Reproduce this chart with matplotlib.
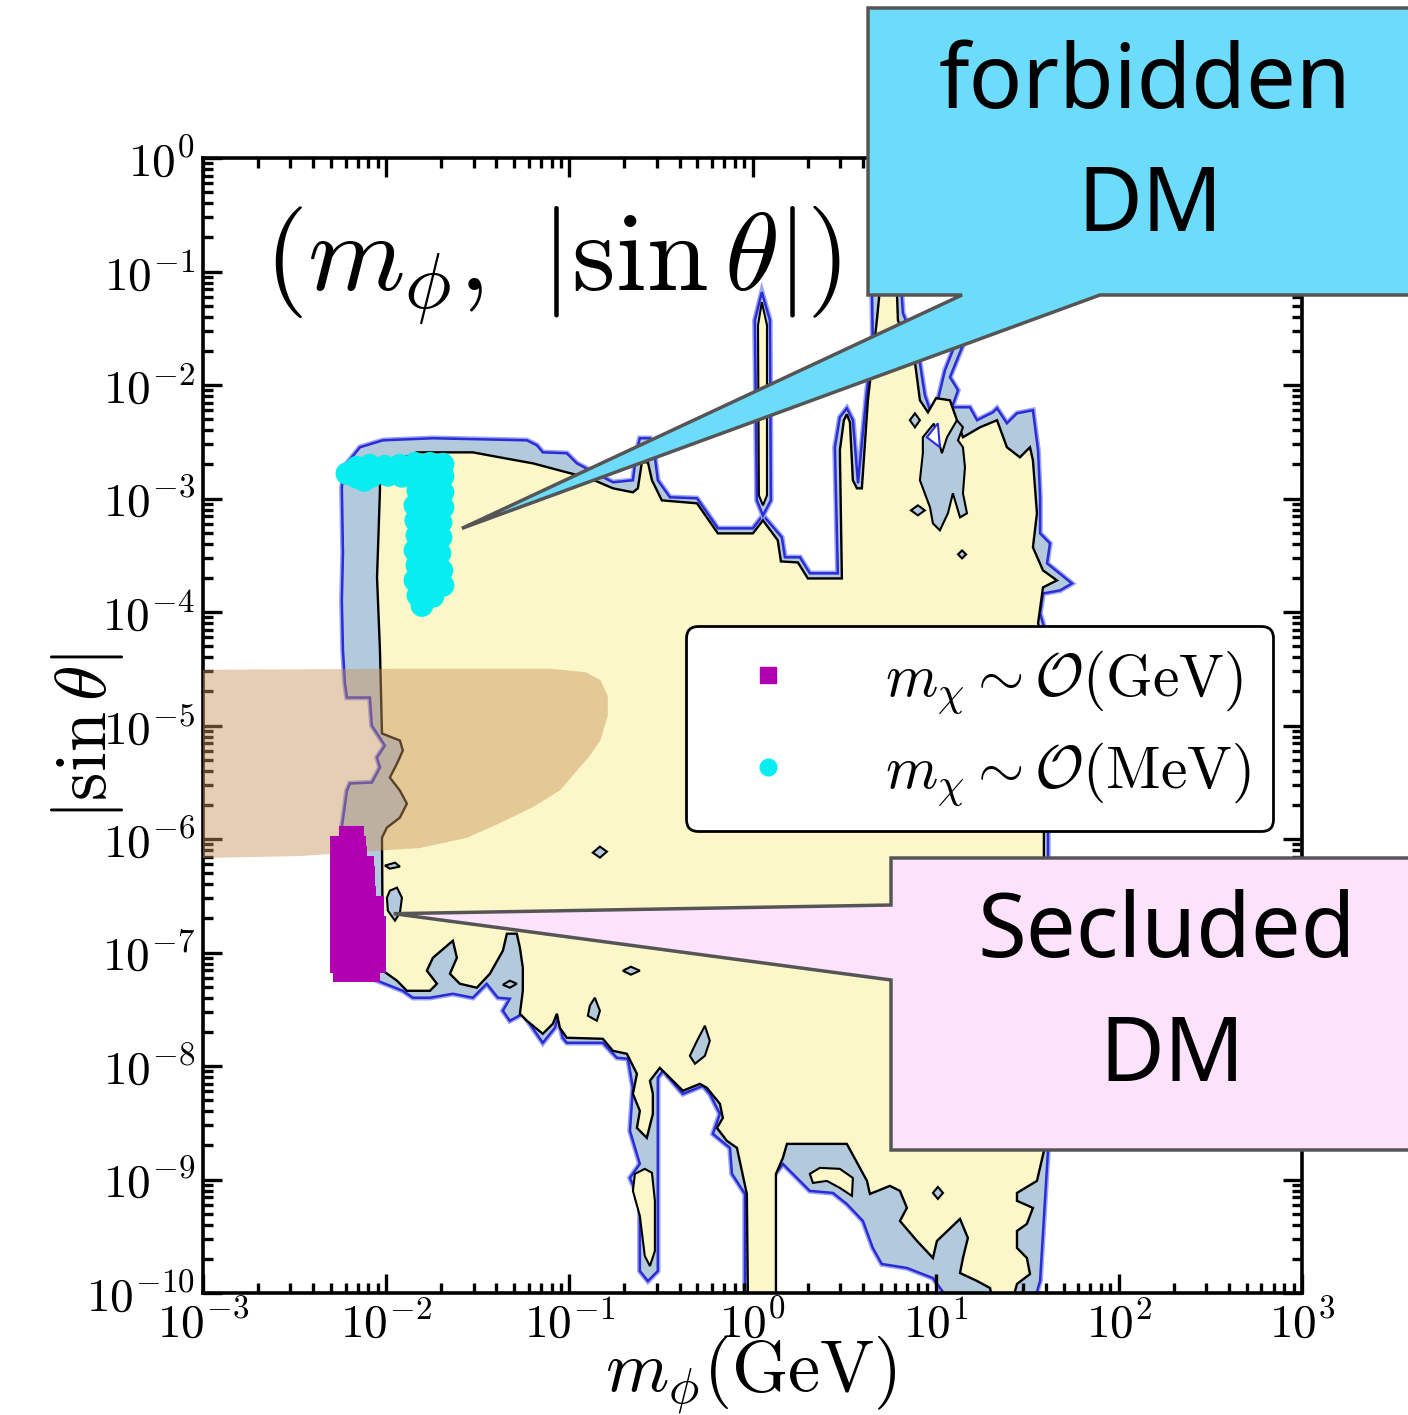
import numpy as np
import matplotlib
matplotlib.use("Agg")
import matplotlib.pyplot as plt
import matplotlib.patheffects as pe
from matplotlib.patches import Polygon
from matplotlib.lines import Line2D
from matplotlib.ticker import LogLocator, FuncFormatter, NullFormatter

plt.rcParams['mathtext.fontset'] = 'cm'
plt.rcParams['font.family'] = 'DejaVu Serif'

# contour boundaries, stored as (log10 m_phi [GeV], log10 |sin theta|)
outer_edge = [
    (-2.236, -2.839), (-2.214, -2.690), (-2.143, -2.548), (-2.018, -2.487), (-1.745, -2.469),
    (-1.232, -2.487), (-1.177, -2.531), (-1.145, -2.593), (-1.014, -2.601), (-0.959, -2.690),
    (-0.888, -2.751), (-0.762, -2.857), (-0.653, -2.839), (-0.631, -2.575), (-0.615, -2.469),
    (-0.560, -2.469), (-0.533, -2.637), (-0.517, -2.839), (-0.451, -2.989), (-0.303, -2.998),
    (-0.189, -3.263), (0.002, -3.263), (0.057, -3.148), (0.160, -3.342), (0.177, -3.518),
    (0.259, -3.518), (0.313, -3.659), (0.466, -3.659), (0.450, -2.548), (0.477, -2.284),
    (0.515, -2.205), (0.548, -2.310), (0.576, -2.866), (0.625, -2.046), (0.657, -1.667),
    (0.652, -1.120), (0.695, -0.988), (0.805, -0.988), (0.821, -1.367), (0.903, -1.693),
    (0.941, -2.090), (0.969, -2.222), (1.012, -2.134), (1.051, -1.869), (1.105, -1.649),
    (1.144, -1.667), (1.078, -1.931), (1.122, -2.046), (1.089, -2.196), (1.187, -2.196),
    (1.226, -2.310), (1.313, -2.240), (1.335, -2.205), (1.389, -2.337), (1.444, -2.249),
    (1.531, -2.222), (1.559, -2.575), (1.570, -2.989), (1.570, -3.307), (1.624, -3.395),
    (1.608, -3.571), (1.744, -3.748), (1.679, -3.809), (1.586, -3.836), (1.570, -4.012),
    (1.613, -4.250), (1.613, -8.748), (1.570, -9.894), (1.542, -10.05), (1.067, -10.05),
    (0.985, -9.868), (0.843, -9.779), (0.706, -9.744), (0.657, -9.603), (0.603, -9.365),
    (0.515, -9.215), (0.439, -9.118), (0.313, -9.100), (0.166, -8.862), (0.106, -8.986),
    (0.106, -10.05), (-0.041, -10.05), (-0.041, -9.127), (-0.112, -8.950), (-0.123, -8.721),
    (-0.216, -8.598), (-0.178, -8.421), (-0.233, -8.245), (-0.271, -8.174), (-0.380, -8.245),
    (-0.489, -8.042), (-0.517, -8.104), (-0.517, -9.806), (-0.571, -9.894), (-0.615, -9.806),
    (-0.615, -9.188), (-0.669, -8.986), (-0.615, -8.862), (-0.669, -8.571), (-0.653, -8.192),
    (-0.680, -7.936), (-0.740, -7.927), (-0.817, -7.795), (-1.014, -7.795), (-1.036, -7.751),
    (-1.063, -7.575), (-1.079, -7.663), (-1.145, -7.795), (-1.254, -7.539), (-1.325, -7.601),
    (-1.363, -7.513), (-1.325, -7.407), (-1.390, -7.398), (-1.451, -7.275), (-1.527, -7.398),
    (-1.636, -7.363), (-1.761, -7.398), (-1.854, -7.398), (-1.909, -7.337), (-2.089, -7.222),
    (-2.225, -7.204), (-2.263, -6.984), (-2.253, -6.367), (-2.242, -5.899), (-2.214, -5.573),
    (-2.198, -5.511), (-2.078, -5.502), (-2.034, -5.370), (-2.050, -5.282), (-2.007, -5.176),
    (-2.078, -5.000), (-2.089, -4.753), (-2.214, -4.753), (-2.225, -4.629), (-2.236, -4.338),
    (-2.242, -3.898), (-2.236, -3.483), (-2.242, -2.901),
]

inner_edge = [
    (-2.034, -2.839), (-2.007, -2.751), (-1.941, -2.663), (-1.832, -2.593), (-1.527, -2.593),
    (-1.380, -2.637), (-1.199, -2.690), (-1.014, -2.769), (-0.888, -2.822), (-0.762, -2.910),
    (-0.653, -2.945), (-0.626, -2.910), (-0.604, -2.681), (-0.571, -2.681), (-0.549, -2.839),
    (-0.495, -3.016), (-0.303, -3.042), (-0.189, -3.307), (0.002, -3.307), (0.057, -3.192),
    (0.138, -3.368), (0.155, -3.554), (0.248, -3.563), (0.302, -3.704), (0.488, -3.704),
    (0.477, -2.575), (0.499, -2.310), (0.515, -2.258), (0.532, -2.328), (0.548, -2.839),
    (0.570, -2.910), (0.597, -2.910), (0.630, -2.134), (0.679, -1.429), (0.695, -1.164),
    (0.788, -1.164), (0.794, -1.429), (0.887, -1.799), (0.914, -2.134), (0.958, -2.240),
    (1.002, -2.116), (1.078, -2.134), (1.149, -2.460), (1.242, -2.372), (1.335, -2.310),
    (1.389, -2.548), (1.460, -2.637), (1.515, -2.548), (1.531, -2.663), (1.553, -3.130),
    (1.531, -3.430), (1.586, -3.633), (1.662, -3.721), (1.586, -3.783), (1.559, -4.100),
    (1.591, -4.250), (1.591, -8.748), (1.553, -9.012), (1.444, -9.118), (1.444, -9.188),
    (1.531, -9.250), (1.498, -9.391), (1.444, -9.453), (1.444, -9.603), (1.498, -9.691),
    (1.515, -9.833), (1.444, -9.920), (1.422, -10.05), (1.308, -10.05), (1.297, -9.956),
    (1.226, -9.894), (1.133, -9.824), (1.149, -9.691), (1.176, -9.515), (1.133, -9.347),
    (1.007, -9.541), (0.985, -9.691), (0.898, -9.541), (0.805, -9.365), (0.843, -9.250),
    (0.805, -9.100), (0.750, -9.056), (0.641, -9.127), (0.625, -9.012), (0.515, -8.686),
    (0.188, -8.686), (0.166, -8.809), (0.128, -8.950), (0.128, -10.05), (-0.025, -10.05),
    (-0.031, -9.127), (-0.085, -8.721), (-0.140, -8.659), (-0.194, -8.545), (-0.162, -8.457),
    (-0.178, -8.333), (-0.249, -8.192), (-0.287, -8.157), (-0.380, -8.218), (-0.506, -8.016),
    (-0.560, -8.130), (-0.544, -8.245), (-0.544, -8.421), (-0.577, -8.633), (-0.631, -8.545),
    (-0.615, -8.395), (-0.653, -8.245), (-0.631, -8.069), (-0.686, -7.892), (-0.762, -7.866),
    (-0.817, -7.760), (-1.014, -7.751), (-1.052, -7.663), (-1.068, -7.539), (-1.090, -7.628),
    (-1.145, -7.716), (-1.232, -7.601), (-1.270, -7.539), (-1.254, -7.337), (-1.254, -7.134),
    (-1.270, -6.957), (-1.287, -6.834), (-1.341, -6.834), (-1.363, -6.984), (-1.434, -7.187),
    (-1.505, -7.310), (-1.598, -7.275), (-1.652, -7.187), (-1.614, -7.046), (-1.636, -6.896),
    (-1.745, -7.046), (-1.778, -7.160), (-1.723, -7.275), (-1.761, -7.337), (-1.887, -7.337),
    (-1.941, -7.248), (-2.018, -7.160), (-2.023, -5.988), (-1.996, -5.899), (-1.925, -5.811),
    (-1.887, -5.688), (-1.925, -5.573), (-1.980, -5.458), (-1.941, -5.335), (-1.909, -5.220),
    (-1.925, -5.132), (-2.023, -5.070), (-2.034, -4.338), (-2.050, -3.695), (-2.034, -2.928),
]

# narrow resonance strip near 1 GeV
spike_outer = [(0.057, -3.148), (0.024, -3.016), (0.013, -1.429), (0.051, -1.182),
               (0.095, -1.429), (0.100, -3.016)]
spike_inner = [(0.057, -3.060), (0.035, -2.972), (0.030, -1.473), (0.051, -1.270),
               (0.079, -1.473), (0.079, -2.972)]

# patches of the lower level lying inside the upper one
islands = [
    [(0.930, -2.460), (0.990, -2.340), (1.034, -2.601), (1.062, -2.460), (1.116, -2.310),
     (1.149, -2.372), (1.122, -2.487), (1.149, -2.548), (1.160, -2.725), (1.149, -2.954),
     (1.171, -3.130), (1.133, -3.166), (1.094, -2.954), (1.067, -3.130), (1.023, -3.280),
     (0.985, -3.219), (0.969, -3.077), (0.914, -2.839), (0.930, -2.601)],
    [(-1.980, -6.455), (-1.941, -6.428), (-1.914, -6.517), (-1.925, -6.649), (-1.952, -6.719),
     (-1.991, -6.631), (-1.996, -6.517)],
    [(-0.872, -6.120), (-0.833, -6.067), (-0.795, -6.111), (-0.833, -6.164)],
    [(-0.861, -7.398), (-0.833, -7.513), (-0.850, -7.601), (-0.899, -7.557), (-0.888, -7.469)],
    [(-0.260, -7.645), (-0.233, -7.778), (-0.260, -7.910), (-0.314, -7.980), (-0.342, -7.910),
     (-0.303, -7.778)],
    [(-0.708, -7.160), (-0.664, -7.125), (-0.615, -7.160), (-0.664, -7.195)],
    [(-1.363, -7.284), (-1.325, -7.248), (-1.287, -7.275), (-1.325, -7.310)],
    [(0.859, -2.310), (0.887, -2.249), (0.914, -2.310), (0.887, -2.372)],
    [(0.865, -3.104), (0.903, -3.060), (0.941, -3.104), (0.903, -3.148)],
    [(1.122, -3.492), (1.144, -3.457), (1.166, -3.492), (1.144, -3.527)],
    [(0.985, -9.118), (1.012, -9.065), (1.040, -9.118), (1.012, -9.171)],
    [(-2.007, -6.234), (-1.952, -6.208), (-1.925, -6.243), (-1.980, -6.261)],
]
# patches of the upper level sitting inside the lower band
holes = [
    [(-0.642, -8.950), (-0.588, -8.906), (-0.549, -8.941), (-0.533, -9.188), (-0.533, -9.629),
     (-0.560, -9.762), (-0.588, -9.674), (-0.615, -9.321), (-0.653, -9.100)],
    [(0.313, -8.950), (0.368, -8.897), (0.477, -8.906), (0.548, -8.986), (0.543, -9.144),
     (0.477, -9.074), (0.406, -9.012), (0.330, -9.030)],
]
white_gap = [(0.952, -2.460), (1.012, -2.337), (1.023, -2.548)]

# shaded excluded band (top edge, rounded end, lower edge)
band_edge = [
    (-3.10, -4.510), (-1.920, -4.500), (-1.100, -4.500), (-0.910, -4.530), (-0.830, -4.600),
    (-0.790, -4.740), (-0.790, -4.910), (-0.830, -5.130), (-0.890, -5.270), (-1.050, -5.570),
    (-1.200, -5.720), (-1.380, -5.860), (-1.560, -5.990), (-1.820, -6.080), (-2.020, -6.100),
    (-2.470, -6.150), (-3.10, -6.170),
]

# scan points, m_chi ~ O(MeV)
mev_logm = [-2.160, -2.160, -2.089, -2.078, -2.007, -1.991, -1.925, -1.914, -1.843, -1.832,
            -1.761, -1.750, -1.690, -1.690, -1.827, -1.734, -1.690, -1.843, -1.761, -1.690,
            -1.838, -1.750, -1.701, -1.832, -1.745, -1.701, -1.843, -1.761, -1.707, -1.832,
            -1.750, -1.696, -1.843, -1.750, -1.690, -1.827, -1.745, -1.805, -2.214, -2.120]
mev_logs = [-2.725, -2.813, -2.707, -2.804, -2.716, -2.795, -2.707, -2.804, -2.690, -2.795,
            -2.690, -2.787, -2.698, -2.804, -2.928, -2.910, -2.945, -3.060, -3.042, -3.077,
            -3.192, -3.192, -3.210, -3.324, -3.342, -3.342, -3.457, -3.474, -3.483, -3.589,
            -3.598, -3.633, -3.721, -3.721, -3.765, -3.853, -3.862, -3.942, -2.780, -2.840]

# scan points, m_chi ~ O(GeV)
gev_logm = [-2.209, -2.165,
            -2.258, -2.203, -2.154,
            -2.258, -2.203, -2.149,
            -2.263, -2.209, -2.154, -2.111,
            -2.263, -2.209, -2.154, -2.105,
            -2.263, -2.209, -2.154, -2.105,
            -2.263, -2.209, -2.154, -2.100,
            -2.263, -2.209, -2.154, -2.100, -2.061,
            -2.263, -2.209, -2.154, -2.100, -2.056,
            -2.263, -2.209, -2.154, -2.100, -2.050,
            -2.263, -2.209, -2.154, -2.100, -2.050,
            -2.263, -2.209, -2.154, -2.100, -2.050,
            -2.263, -2.209, -2.154, -2.100, -2.050,
            -2.258, -2.203, -2.149, -2.094, -2.050,
            -2.242, -2.187, -2.133, -2.078]
gev_logs = [-5.961, -5.961,
            -6.049, -6.049, -6.049,
            -6.137, -6.137, -6.137,
            -6.226, -6.226, -6.226, -6.226,
            -6.314, -6.314, -6.314, -6.314,
            -6.402, -6.402, -6.402, -6.402,
            -6.490, -6.490, -6.490, -6.490,
            -6.578, -6.578, -6.578, -6.578, -6.578,
            -6.666, -6.666, -6.666, -6.666, -6.666,
            -6.755, -6.755, -6.755, -6.755, -6.755,
            -6.843, -6.843, -6.843, -6.843, -6.843,
            -6.931, -6.931, -6.931, -6.931, -6.931,
            -7.019, -7.019, -7.019, -7.019, -7.019,
            -7.107, -7.107, -7.107, -7.107, -7.107,
            -7.187, -7.187, -7.187, -7.187]

legend_labels = [r'$m_\chi \sim \mathcal{O}(\mathrm{GeV})$',
                 r'$m_\chi \sim \mathcal{O}(\mathrm{MeV})$']

YELLOW = '#fbf7c9'
BAND = '#b3c9dc'
BLUE = '#2b2bd8'
halo = [pe.Stroke(linewidth=4.0, foreground='#9aa6f2'), pe.Normal()]


def to_xy(pts):
    arr = np.asarray(pts)
    return 10 ** arr[:, 0], 10 ** arr[:, 1]


fig = plt.figure(figsize=(14.08, 14.15), dpi=100)
fig.subplots_adjust(left=0.1442, right=0.9247, bottom=0.0862, top=0.8883)
ax = fig.add_subplot(111)
ax.set_xscale('log')
ax.set_yscale('log')
ax.set_xlim(1e-3, 1e3)
ax.set_ylim(1e-10, 1e0)

# two-level region: band between the levels, then the inner region on top
for pts in (outer_edge, spike_outer):
    p, = ax.fill(*to_xy(pts), facecolor=BAND, edgecolor=BLUE, lw=1.8, zorder=1)
    p.set_path_effects(halo)
ax.fill(*to_xy(inner_edge), facecolor=YELLOW, edgecolor='black', lw=1.7, zorder=2)
ax.fill(*to_xy(spike_inner), facecolor=YELLOW, edgecolor='black', lw=1.5, zorder=2)
for isl in islands:
    ax.fill(*to_xy(isl), facecolor=BAND, edgecolor='black', lw=1.5, zorder=3)
for h in holes:
    ax.fill(*to_xy(h), facecolor=YELLOW, edgecolor='black', lw=1.5, zorder=3)
ax.fill(*to_xy(white_gap), facecolor='white', edgecolor=BLUE, lw=1.5, zorder=3)

ax.fill(*to_xy(band_edge), facecolor='#c8935a', edgecolor='none', alpha=0.45, zorder=4)

ax.scatter(10 ** np.array(mev_logm), 10 ** np.array(mev_logs), s=270, marker='o',
           color='#08eef0', edgecolors='none', zorder=5)
ax.scatter(10 ** np.array(gev_logm), 10 ** np.array(gev_logs), s=150, marker='s',
           color='#b000b0', edgecolors='none', zorder=6)

# axes styling
dec_fmt = FuncFormatter(lambda v, p: r'$10^{%d}$' % int(round(np.log10(v))))
for axis in (ax.xaxis, ax.yaxis):
    axis.set_major_locator(LogLocator(base=10, numticks=20))
    axis.set_minor_locator(LogLocator(base=10, subs=np.arange(2, 10), numticks=20))
    axis.set_major_formatter(dec_fmt)
    axis.set_minor_formatter(NullFormatter())
ax.tick_params(which='both', direction='in', top=True, right=True, width=2.4,
               labelsize=34)
ax.tick_params(which='major', length=14)
ax.tick_params(which='minor', length=7)
ax.tick_params(axis='x', pad=6)
ax.tick_params(axis='y', pad=6)
for sp in ax.spines.values():
    sp.set_linewidth(2.6)

ax.set_xlabel(r'$m_\phi(\mathrm{GeV})$', fontsize=52, va='center')
ax.xaxis.set_label_coords(0.499, -0.072)
ax.set_ylabel(r'$|\sin\theta|$', fontsize=52, va='center')
ax.yaxis.set_label_coords(-0.105, 0.49)

ax.text(0.318, 0.905, r'$(m_\phi,\ |\sin\theta|)$', transform=ax.transAxes,
        fontsize=80, ha='center', va='center', zorder=7)

handles = [Line2D([], [], ls='none', marker='s', color='#b000b0', markersize=11),
           Line2D([], [], ls='none', marker='o', color='#08eef0', markersize=12)]
leg = ax.legend(handles, legend_labels, loc='upper left', bbox_to_anchor=(0.4395, 0.5877),
                borderaxespad=0, fontsize=43, frameon=True, fancybox=True,
                framealpha=1, edgecolor='black', handlelength=2.0, handletextpad=0.95,
                borderpad=0.38, labelspacing=0.42)
leg.get_frame().set_linewidth(2.0)
leg.set_zorder(10)

# callout boxes
to_fig = lambda xy: fig.transFigure.inverted().transform(ax.transData.transform(xy))
tip_forbidden = to_fig((0.0259, 5.46e-4))
tip_secluded = to_fig((0.0110, 2.2e-7))

forbidden_box = [(0.6165, 0.99435), (1.01, 0.99435), (1.01, 0.79152), (0.78125, 0.79152),
                 tuple(tip_forbidden), (0.68324, 0.79152), (0.6165, 0.79152)]
secluded_box = [(0.63281, 0.39364), (1.01, 0.39364), (1.01, 0.18728), (0.63281, 0.18728),
                (0.63281, 0.30742), tuple(tip_secluded), (0.63281, 0.36042)]
fig.add_artist(Polygon(forbidden_box, closed=True, transform=fig.transFigure,
                       facecolor='#6cdcfa', edgecolor='#555555', lw=2.5, zorder=20))
fig.add_artist(Polygon(secluded_box, closed=True, transform=fig.transFigure,
                       facecolor='#fde2fc', edgecolor='#555555', lw=2.5, zorder=20))

note_font = dict(family='Noto Sans', fontsize=64, ha='center', va='center', zorder=21)
fig.text(0.8132, 0.940, 'forbidden', **note_font)
fig.text(0.8168, 0.853, 'DM', **note_font)
fig.text(0.8288, 0.340, 'Secluded', **note_font)
fig.text(0.8324, 0.252, 'DM', **note_font)

fig.savefig('out.png', dpi=100)
